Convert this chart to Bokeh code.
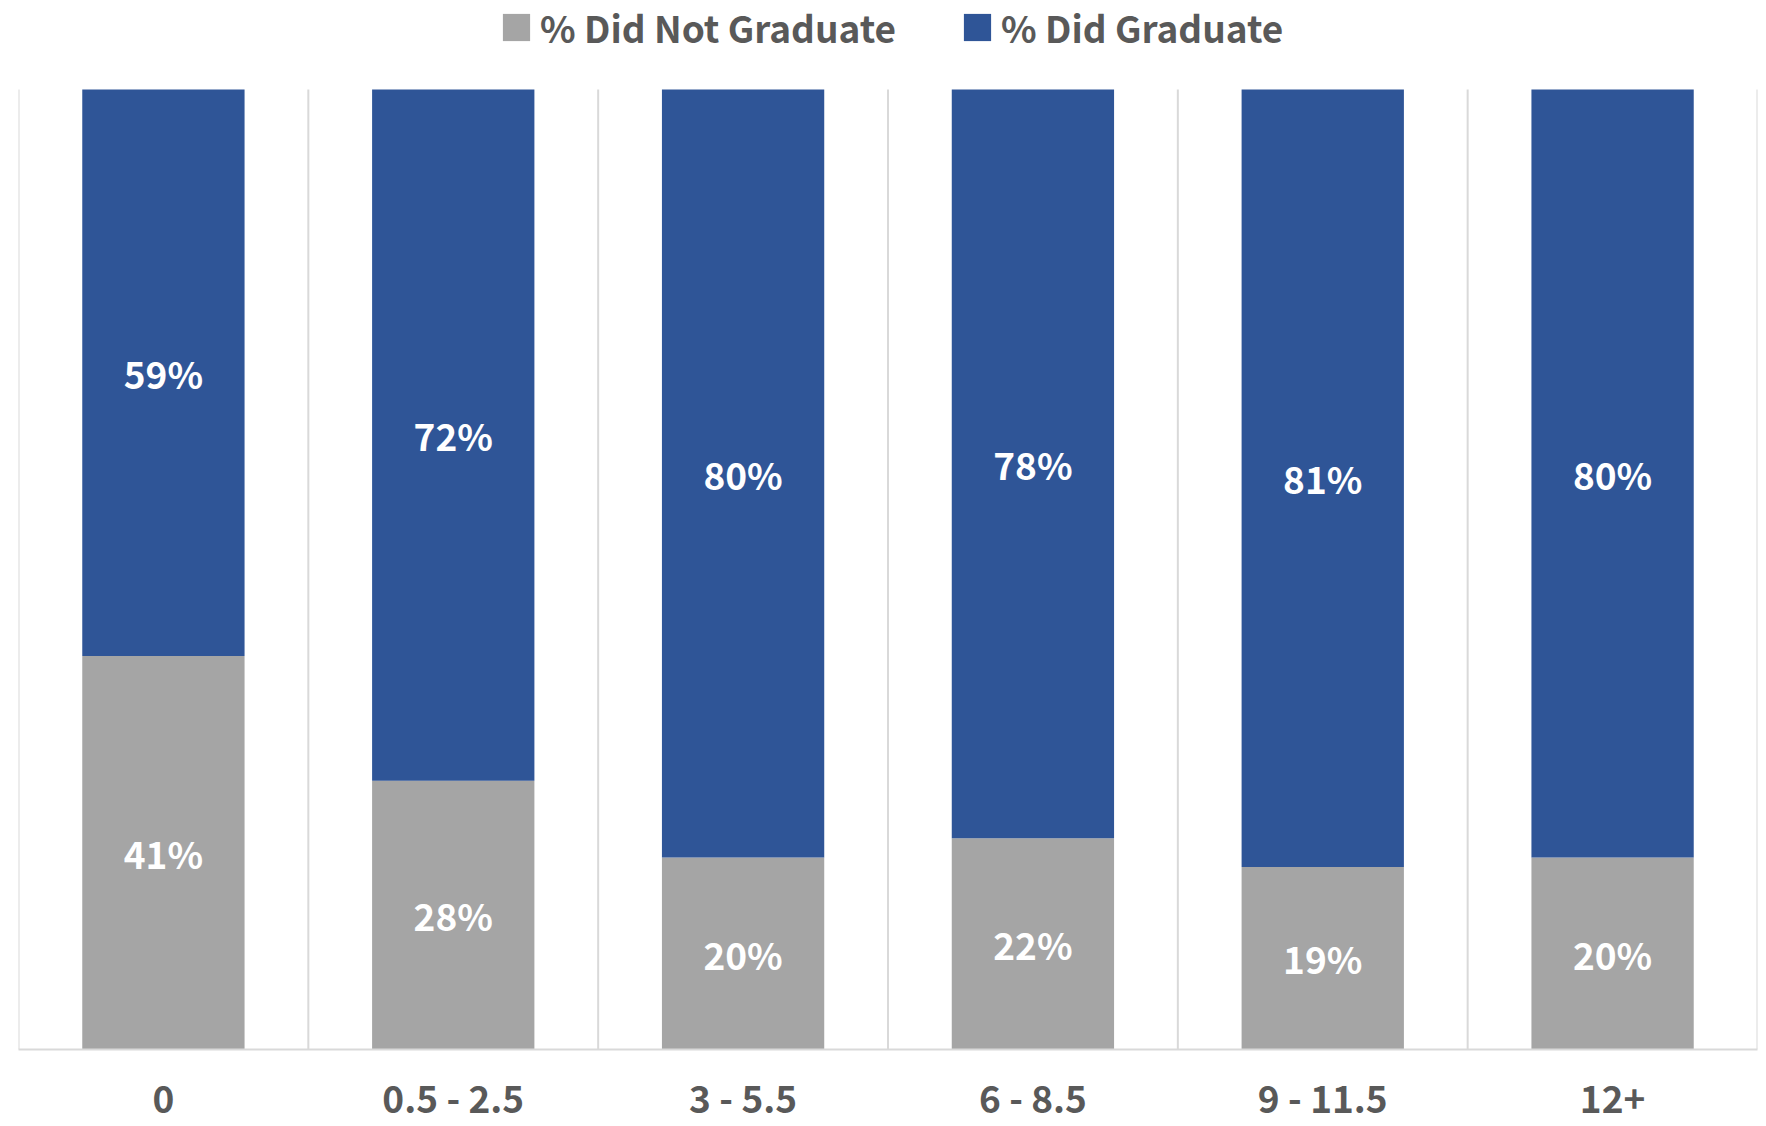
from bokeh.plotting import figure
from bokeh.models import Range1d, FixedTicker, Legend, LegendItem, ColumnDataSource
from bokeh.core.properties import value
from bokeh.embed import file_html
from bokeh.resources import INLINE

categories = ["0", "0.5 - 2.5", "3 - 5.5", "6 - 8.5", "9 - 11.5", "12+"]
not_graduate = [41, 28, 20, 22, 19, 20]
did_graduate = [59, 72, 80, 78, 81, 80]

FONT = "Noto Sans CJK JP"
BLUE = "#2F5597"
GREY = "#A5A5A5"
TEXT = "#595959"
GRID = "#D9D9D9"

n = len(categories)
xs = [i + 0.5 for i in range(n)]
bounds = list(range(n + 1))

src = ColumnDataSource(dict(
    x=xs,
    ng=not_graduate,
    dg=[a + b for a, b in zip(not_graduate, did_graduate)],
    ng_mid=[v / 2 for v in not_graduate],
    dg_mid=[a + b / 2 for a, b in zip(not_graduate, did_graduate)],
    ng_lab=[f"{v}%" for v in not_graduate],
    dg_lab=[f"{v}%" for v in did_graduate],
))

# frame runs to the top of the page so that the legend can sit inside it
p = figure(width=1766, height=1126, output_backend="svg", toolbar_location=None,
           x_range=Range1d(0, n), y_range=Range1d(0, 100 * 1049 / 960),
           y_axis_location=None,
           min_border_left=18, min_border_right=9, min_border_top=0, min_border_bottom=77)
p.outline_line_color = None
p.background_fill_color = "white"
p.xgrid.grid_line_color = None
p.ygrid.grid_line_color = None

# category separators (0 .. 100 %)
p.segment(x0=bounds, y0=[0] * len(bounds), x1=bounds, y1=[100] * len(bounds),
          line_color=GRID, line_width=2)

r_ng = p.vbar(x="x", bottom=0, top="ng", width=0.56, source=src, fill_color=GREY, line_color=None)
r_dg = p.vbar(x="x", bottom="ng", top="dg", width=0.56, source=src, fill_color=BLUE, line_color=None)

for ycol, tcol in (("ng_mid", "ng_lab"), ("dg_mid", "dg_lab")):
    p.text(x="x", y=ycol, text=tcol, source=src, text_color="white",
           text_font=value(FONT), text_font_style="bold", text_font_size="37px",
           text_align="center", text_baseline="middle")

ax = p.xaxis[0]
ax.ticker = FixedTicker(ticks=xs)
ax.major_label_overrides = {x: c for x, c in zip(xs, categories)}
ax.major_tick_line_color = None
ax.minor_tick_line_color = None
ax.axis_line_color = GRID
ax.axis_line_width = 2
ax.major_label_text_font = FONT
ax.major_label_text_font_size = "37px"
ax.major_label_text_color = TEXT
ax.major_label_text_font_style = "bold"
ax.major_label_standoff = 14

legend = Legend(items=[LegendItem(label="% Did Not Graduate", renderers=[r_ng]),
                       LegendItem(label="% Did Graduate", renderers=[r_dg])],
                orientation="horizontal", location=(481, 995),
                glyph_width=34, glyph_height=34, label_standoff=7, spacing=64,
                padding=0, margin=0, border_line_color=None, background_fill_alpha=0,
                label_text_font=FONT, label_text_font_size="37px", label_text_color=TEXT,
                label_text_font_style="bold")
p.add_layout(legend)

open("out.html", "w").write(file_html(p, INLINE))
